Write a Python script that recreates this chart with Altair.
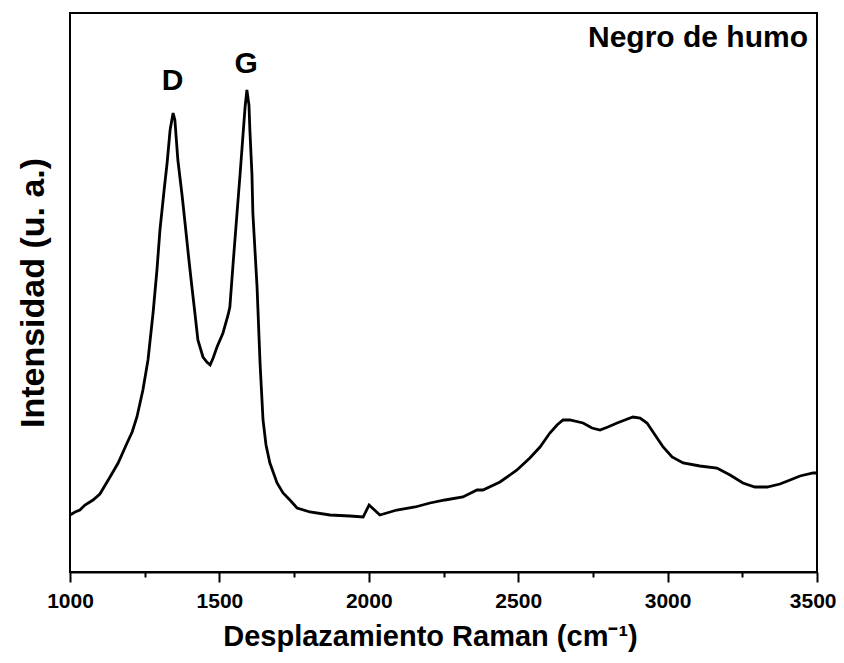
import altair as alt
import pandas as pd

# Raman shift (cm-1)
shift = [1000, 1017, 1033, 1050, 1077, 1100, 1134, 1161, 1191, 1208, 1224, 1244,
         1261, 1278, 1291, 1301, 1315, 1325, 1335, 1345, 1351, 1361, 1375, 1385,
         1398, 1408, 1418, 1428, 1445, 1458, 1469, 1479, 1492, 1512, 1529, 1535,
         1546, 1559, 1569, 1576, 1586, 1592, 1599, 1602, 1609, 1612, 1619, 1626,
         1636, 1646, 1656, 1669, 1693, 1713, 1736, 1760, 1803, 1870, 1937, 1981,
         2001, 2037, 2094, 2155, 2205, 2255, 2315, 2362, 2382, 2439, 2496, 2539,
         2573, 2606, 2630, 2650, 2673, 2717, 2747, 2774, 2800, 2831, 2857, 2884,
         2908, 2931, 2958, 2985, 3015, 3052, 3108, 3165, 3209, 3252, 3292, 3333,
         3376, 3410, 3443, 3487, 3500]

# Intensity (arbitrary units)
intensity = [57, 60, 62, 67, 72, 78, 95, 109, 129, 140, 155, 182,
             212, 259, 302, 342, 382, 409, 442, 459, 452, 412, 377, 349,
             312, 285, 259, 232, 215, 210, 207, 214, 225, 239, 257, 265,
             309, 359, 397, 425, 465, 482, 467, 442, 397, 359, 322, 285,
             209, 152, 127, 109, 89, 79, 72, 64, 60, 57, 56, 55,
             67, 57, 62, 65, 69, 72, 75, 82, 82, 90, 102, 114,
             125, 139, 147, 152, 152, 149, 144, 142, 145, 149, 152, 155,
             154, 149, 137, 125, 115, 109, 106, 104, 97, 89, 85, 85,
             88, 92, 96, 99, 99]

labels = ["D", "G"]
label_x = [1343, 1590]
label_y = [491, 508]

inset_text = ["Negro de humo"]
inset_x = [3470]
inset_y = [525]

FONT = "Liberation Sans"

spec = pd.DataFrame({"shift": shift, "intensity": intensity})
lab = pd.DataFrame({"t": labels, "x": label_x, "y": label_y})
ins = pd.DataFrame({"t": inset_text, "x": inset_x, "y": inset_y})

xscale = alt.Scale(domain=[1000, 3500], nice=False, zero=False)
yscale = alt.Scale(domain=[0, 559], nice=False, zero=False)

xaxis = alt.Axis(
    title="Desplazamiento Raman (cm⁻¹)",
    values=[1000, 1250, 1500, 1750, 2000, 2250, 2500, 2750, 3000, 3250, 3500],
    labelExpr="datum.value % 500 === 0 ? datum.value : ''",
    tickSize={"condition": {"test": "datum.value % 500 === 0", "value": 10}, "value": 5},
    tickWidth=2, tickColor="black",
    domainColor="black", domainWidth=2,
    labelFont=FONT, labelFontSize=21, labelFontWeight="bold", labelColor="black",
    labelAlign={"condition": {"test": "datum.value === 3500", "value": "right"}, "value": "center"},
    labelOffset={"condition": {"test": "datum.value === 3500", "value": 19}, "value": 0},
    labelPadding=8, labelFlush=False,
    titleFont=FONT, titleFontSize=29, titleFontWeight="bold", titleColor="black",
    titlePadding=11, titleX=360, grid=False,
)
yaxis = alt.Axis(
    title="Intensidad (u. a.)", ticks=False, labels=False, domain=False, grid=False,
    titleFont=FONT, titleFontSize=34, titleFontWeight="bold", titleColor="black",
    titlePadding=20,
)

line = alt.Chart(spec).mark_line(color="black", strokeWidth=2.8).encode(
    x=alt.X("shift:Q", scale=xscale, axis=xaxis),
    y=alt.Y("intensity:Q", scale=yscale, axis=yaxis),
)

peaks = alt.Chart(lab).mark_text(
    font=FONT, fontSize=30, fontWeight="bold", color="black", baseline="middle", align="center"
).encode(x=alt.X("x:Q", scale=xscale), y=alt.Y("y:Q", scale=yscale), text="t:N")

inset = alt.Chart(ins).mark_text(
    font=FONT, fontSize=30, fontWeight="bold", color="black", baseline="alphabetic", align="right"
).encode(x=alt.X("x:Q", scale=xscale), y=alt.Y("y:Q", scale=yscale), text="t:N")

chart = alt.layer(line, peaks, inset).properties(
    width=747, height=559,
    autosize=alt.AutoSizeParams(type="none"),
    padding={"left": 62, "top": 5, "right": 19, "bottom": 83},
    background="white",
).configure_view(stroke="black", strokeWidth=2)

chart.save("out.html", embed_options={"renderer": "svg", "actions": False})
